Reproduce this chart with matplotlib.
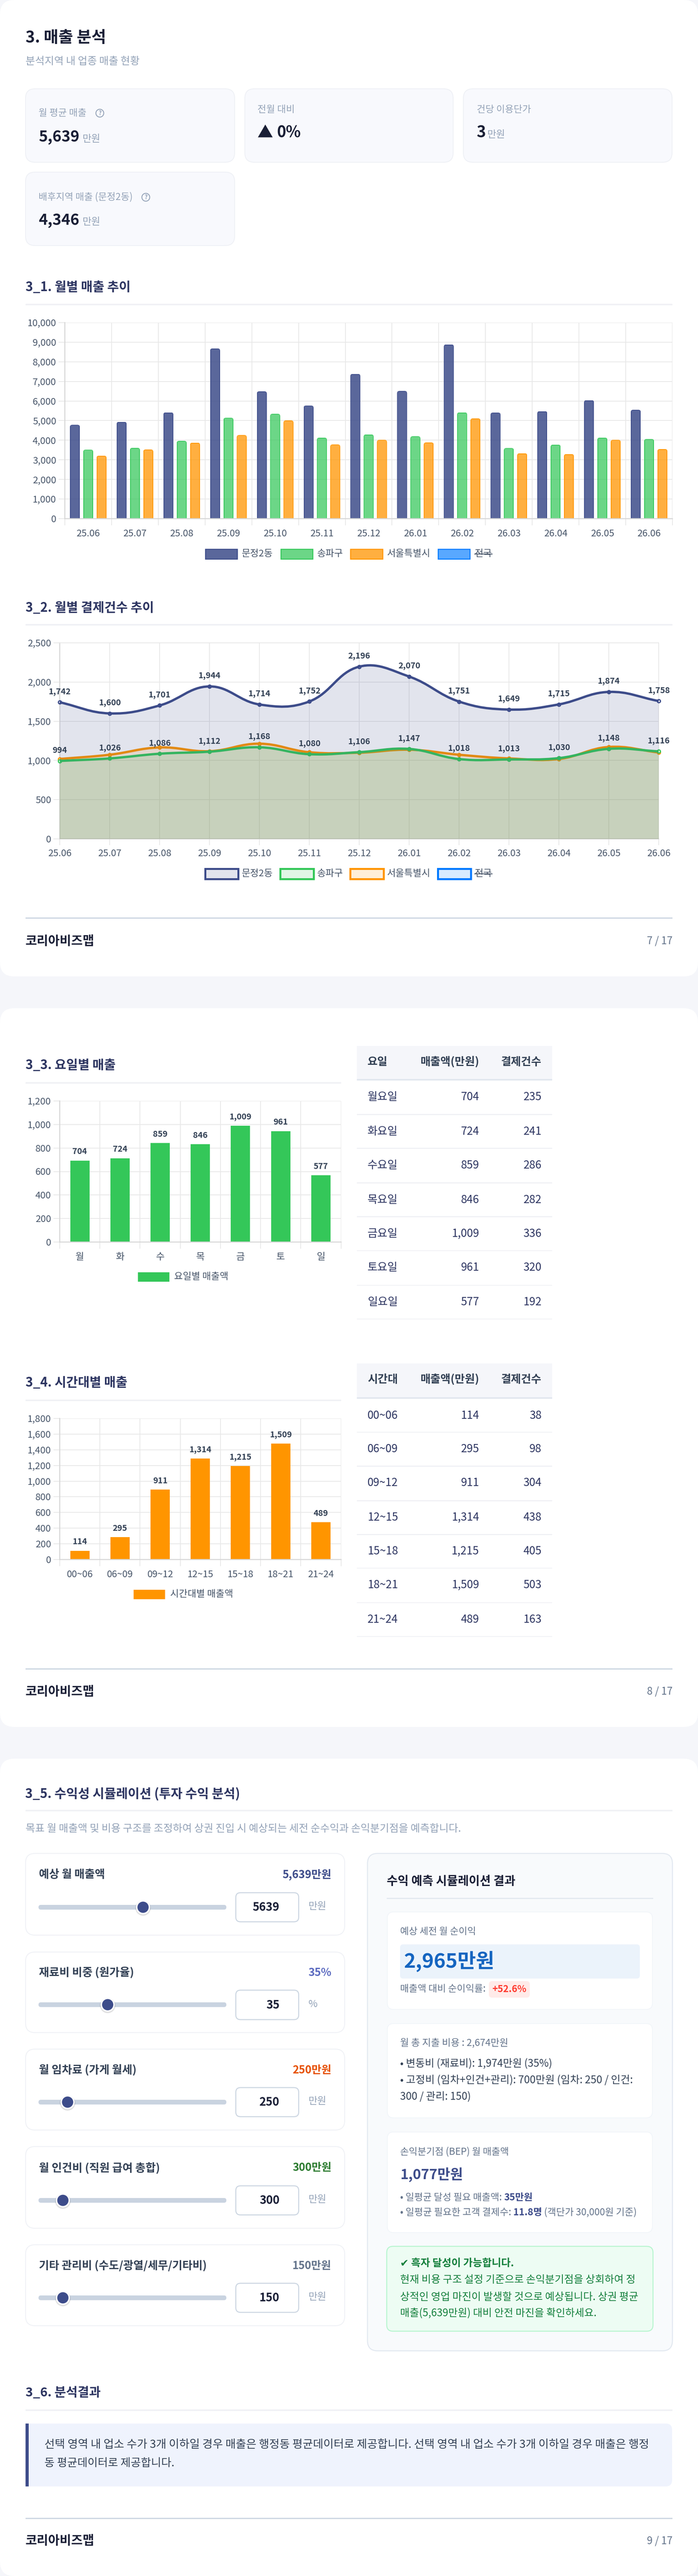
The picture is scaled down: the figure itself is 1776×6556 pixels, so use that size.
import matplotlib
matplotlib.use("Agg")
import matplotlib.pyplot as plt
from matplotlib.patches import FancyBboxPatch, Rectangle, Circle, PathPatch
from matplotlib.path import Path

plt.rcParams['font.family'] = ['Noto Sans CJK KR', 'DejaVu Sans']

W, H = 1776, 6556

# ---------- data ----------
months = ['25.06','25.07','25.08','25.09','25.10','25.11','25.12','26.01','26.02','26.03','26.04','26.05','26.06']
series_names = ['문정2동','송파구','서울특별시','전국']
sales_dong = [4765,4918,5399,8660,6472,5746,7362,6493,8865,5389,5460,6022,5532]
sales_gu   = [3497,3589,3947,5123,5327,4110,4274,4182,5399,3579,3753,4110,4039]
sales_city = [3190,3507,3855,4243,4990,3763,3998,3865,5092,3313,3272,3998,3528]
sales_ticks = [0,1000,2000,3000,4000,5000,6000,7000,8000,9000,10000]

count_dong = [1742,1600,1701,1944,1714,1752,2196,2070,1751,1649,1715,1874,1758]
count_gu   = [994,1026,1086,1112,1168,1080,1106,1147,1018,1013,1030,1148,1116]
count_city = [1019,1073,1166,1118,1214,1105,1099,1137,1073,1026,1019,1172,1102]
count_ticks = [0,500,1000,1500,2000,2500]

days = ['월','화','수','목','금','토','일']
day_names = ['월요일','화요일','수요일','목요일','금요일','토요일','일요일']
day_bar_heights = [693,712,842,831,989,944,567]
day_sales = [704,724,859,846,1009,961,577]
day_counts = [235,241,286,282,336,320,192]
day_ticks = [0,200,400,600,800,1000,1200]

hours = ['00~06','06~09','09~12','12~15','15~18','18~21','21~24']
hour_bar_heights = [112,285,892,1288,1192,1477,476]
hour_sales = [114,295,911,1314,1215,1509,489]
hour_counts = [38,98,304,438,405,503,163]
hour_ticks = [0,200,400,600,800,1000,1200,1400,1600,1800]

slider_labels = ['예상 월 매출액','재료비 비중 (원가율)','월 임차료 (가게 월세)','월 인건비 (직원 급여 총합)','기타 관리비 (수도/광열/세무/기타비)']
slider_values = ['5,639만원','35%','250만원','300만원','150만원']
slider_inputs = ['5639','35','250','300','150']
slider_units = ['만원','%','만원','만원','만원']

# ---------- colours ----------
NAVY, GREEN, ORANGE, BLUE = '#3d4c8a', '#34c759', '#ff9500', '#007aff'
PAGE = '#f5f6fa'; RULE = '#f0f1f5'; TICK = '#475569'; LABEL = '#334155'; INK = '#1a1f36'
HEAD = '#2d3561'; MUTED = '#94a3b8'; SLATE = '#64748b'; GRID = '#e8e8e8'; AXIS = '#d6d6d6'

fig = plt.figure(figsize=(W/100, H/100), dpi=100, facecolor=PAGE)
bg = fig.add_axes([0,0,1,1], zorder=0)
bg.set_xlim(0, W); bg.set_ylim(H, 0); bg.axis('off')
top = fig.add_axes([0,0,1,1], zorder=20)
top.set_xlim(0, W); top.set_ylim(H, 0); top.axis('off'); top.patch.set_alpha(0)
renderer = fig.canvas.get_renderer()
pt = lambda px: px*0.72


def box(x0, y0, x1, y1, r=0, fc='white', ec='none', lw=0, z=1):
    st = f"round,pad=0,rounding_size={r}" if r else "square,pad=0"
    p = FancyBboxPatch((x0, y0), x1-x0, y1-y0, boxstyle=st, fc=fc, ec=ec, lw=pt(lw), zorder=z, mutation_aspect=1)
    bg.add_patch(p)
    return p


def width(s, px, weight='normal'):
    a = top.text(0, 0, s+'|', fontsize=pt(px), fontweight=weight)
    b = top.text(0, 0, '|', fontsize=pt(px), fontweight=weight)
    w = a.get_window_extent(renderer).width - b.get_window_extent(renderer).width
    a.remove(); b.remove()
    return w


def T(x, y, s, px, color=INK, weight='normal', ha='left', fit=None):
    if fit:
        px = px*fit/width(s, px, weight)
    return top.text(x, y, s, fontsize=pt(px), color=color, fontweight=weight, ha=ha, va='center', zorder=30)


def runs(x, y, parts, px, fit=None):
    if fit:
        px = px*fit/sum(width(s, px, wt) for s, _, wt in parts)
    for s, col, wt in parts:
        T(x, y, s, px, col, wt)
        x += width(s, px, wt)


def rule(x0, x1, y, h=4, c=RULE):
    bg.add_patch(Rectangle((x0, y-h/2), x1-x0, h, fc=c, ec='none', zorder=2))


def axes_px(l, t, r, b):
    a = fig.add_axes([l/W, 1-b/H, (r-l)/W, (b-t)/H], zorder=10)
    a.patch.set_alpha(0)
    return a


def style_axes(a, ticks, tick_len=16):
    for s in ['top','right']:
        a.spines[s].set_visible(False)
    for s in ['left','bottom']:
        a.spines[s].set_color(AXIS); a.spines[s].set_linewidth(pt(2.5))
    a.set_axisbelow(True)
    a.set_yticks(ticks)
    a.set_yticklabels([f"{v:,}" for v in ticks])
    a.set_ylim(ticks[0], ticks[-1])
    a.grid(True, which='major', color=GRID, lw=pt(2))
    a.tick_params(axis='y', which='major', length=pt(tick_len), width=pt(2), color=GRID, pad=pt(6), labelsize=pt(24), labelcolor=TICK)


def band_axes(a, labels):
    n = len(labels)
    a.set_xlim(-0.5, n-0.5)
    a.set_xticks([i-0.5 for i in range(n+1)])
    a.set_xticklabels([])
    a.set_xticks(list(range(n)), minor=True)
    a.set_xticklabels(labels, minor=True)
    a.tick_params(axis='x', which='major', length=pt(17), width=pt(2), color=GRID)
    a.tick_params(axis='x', which='minor', length=0, pad=pt(27), labelsize=pt(24), labelcolor=TICK)


def footer(y_rule, y_text, page):
    rule(65, 1711, y_rule, 3, '#cbd5e1')
    T(65, y_text, '코리아비즈맵', 32, INK, 'bold', fit=175)
    T(1711, y_text, page, 26, SLATE, ha='right')


# ---------- page cards ----------
box(0, 0, W, 2485, 36, z=0.5)
box(0, 2566, W, 4395, 36, z=0.5)
box(0, 4476, W, 6556, 36, z=0.5)

# ---------- KPI header ----------
T(65, 97, '3. 매출 분석', 40, INK, 'bold', fit=205)
T(65, 156, '분석지역 내 업종 매출 현황', 24, MUTED, fit=291)
for x0, x1, y0, y1 in [(65,597,226,413),(623,1153,226,413),(1179,1710,226,413),(65,597,438,625)]:
    box(x0, y0, x1, y1, 24, '#f8f9fd', '#eef0f5', 2, z=1)


def help_icon(x, y):
    top.add_patch(Circle((x, y), 10, fc='none', ec=MUTED, lw=pt(2.2)))
    T(x, y, '?', 15, MUTED, 'bold', ha='center')


T(98, 288, '월 평균 매출', 22, MUTED, fit=122); help_icon(254, 288)
T(98, 349, '5,639', 40, INK, 'bold', fit=104); T(210, 354, '만원', 24, MUTED, fit=46)
T(655, 279, '전월 대비', 22, MUTED, fit=95)
T(655, 338, '▲', 40, INK, 'bold'); T(704, 338, '0%', 40, INK, 'bold', fit=61)
T(1213, 279, '건당 이용단가', 22, MUTED, fit=138)
T(1213, 338, '3', 40, INK, 'bold'); T(1240, 343, '만원', 24, MUTED, fit=46)
T(98, 502, '배후지역 매출 (문정2동)', 22, MUTED, fit=240); help_icon(371, 502)
T(98, 561, '4,346', 40, INK, 'bold', fit=104); T(210, 565, '만원', 24, MUTED, fit=46)

# ---------- 3_1 grouped bars ----------
T(65, 732, '3_1. 월별 매출 추이', 32, HEAD, 'bold', fit=267)
rule(65, 1711, 775)
ax1 = axes_px(165, 821, 1711, 1320)
style_axes(ax1, sales_ticks)
band_axes(ax1, months)
x_idx = list(range(len(months)))
unit_x = 118.92
unit_y = 10000/499
for vals, off, col, alpha in [(sales_dong,-0.285,NAVY,.85),(sales_gu,0,GREEN,.72),(sales_city,0.285,ORANGE,.75)]:
    face = matplotlib.colors.to_rgba(col, alpha)
    bars = ax1.bar([i+off for i in x_idx], vals, width=0.196, color=face, edgecolor=col, linewidth=pt(2))
    for b in bars:
        rx = 6/unit_x
        clip = FancyBboxPatch((b.get_x()-1/unit_x, -400), b.get_width()+2/unit_x, b.get_height()+400+1*unit_y,
                              boxstyle=f"round,pad=0,rounding_size={rx}", mutation_aspect=6*unit_y/rx,
                              transform=ax1.transData)
        b.set_clip_path(clip)


def legend_row(yc, yh, swatches, line=False):
    names = series_names
    for (x0, x1, tx), name, col, a in zip(swatches, names, [NAVY,GREEN,ORANGE,BLUE], [.85,.72,.75,.65] if not line else [.15,.15,.15,.15]):
        bw = 5 if line else 2.5
        top.add_patch(Rectangle((x0, yc-yh), x1-x0, 2*yh, fc=matplotlib.colors.to_rgba(col, a), ec=col, lw=pt(bw)))
        T(tx, yc, name, 24, TICK)
        if name == '전국':
            w = width(name, 24)
            top.plot([tx, tx+w], [yc, yc], color=TICK, lw=pt(2.2))


legend_row(1410, 12.5, [(523,604,615),(715,796,807),(892,974,985),(1115,1196,1208)])

# ---------- 3_2 smooth lines ----------
T(65, 1548, '3_2. 월별 결제건수 추이', 32, HEAD, 'bold', fit=326)
rule(65, 1711, 1590)
ax2 = axes_px(152, 1636, 1676, 2135)
style_axes(ax2, count_ticks)
ax2.set_xlim(0, 12)
ax2.set_xticks(x_idx)
ax2.set_xticklabels(months)
ax2.tick_params(axis='x', length=pt(16), width=pt(2), color=GRID, pad=pt(10), labelsize=pt(24), labelcolor=TICK)
ax2.spines['right'].set_visible(True); ax2.spines['right'].set_color(GRID); ax2.spines['right'].set_linewidth(pt(2))
ax2.spines['top'].set_visible(True); ax2.spines['top'].set_color(GRID); ax2.spines['top'].set_linewidth(pt(2))


def spline_vertices(a, xs, ys, t=0.4):
    """Bezier segments through the data points only, using chart tension."""
    pts = a.transData.transform(list(zip(xs, ys)))
    n = len(pts)
    inv = a.transData.inverted()
    verts, codes = [tuple(inv.transform(pts[0]))], [Path.MOVETO]
    ctrl = []
    for i in range(n):
        p0 = pts[max(i-1, 0)]; p1 = pts[i]; p2 = pts[min(i+1, n-1)]
        d01 = ((p1-p0)**2).sum()**.5; d12 = ((p2-p1)**2).sum()**.5
        s = d01+d12
        fa = t*d01/s; fb = t*d12/s
        ctrl.append((p1-fa*(p2-p0), p1+fb*(p2-p0)))
    for i in range(n-1):
        verts += [tuple(inv.transform(ctrl[i][1])), tuple(inv.transform(ctrl[i+1][0])), tuple(inv.transform(pts[i+1]))]
        codes += [Path.CURVE4]*3
    return verts, codes


for vals, col, z in [(count_city,ORANGE,3),(count_gu,GREEN,4),(count_dong,NAVY,5)]:
    v, c = spline_vertices(ax2, x_idx, vals)
    fill_v = v + [(12, 0), (0, 0), v[0]]
    fill_c = c + [Path.LINETO, Path.LINETO, Path.CLOSEPOLY]
    ax2.add_patch(PathPatch(Path(fill_v, fill_c), fc=matplotlib.colors.to_rgba(col, .15), ec='none', zorder=z))
    ax2.plot(x_idx, vals, ls='none', marker='o', ms=pt(8), mfc='white', mec=col, mew=pt(3), zorder=z, clip_on=False)
    ax2.add_patch(PathPatch(Path(v, c), fc='none', ec=col, lw=pt(6), capstyle='butt', joinstyle='round', zorder=z+0.1, clip_on=False))
for vals in (count_dong, count_gu):
    for i, val in enumerate(vals):
        ax2.annotate(f"{val:,}", (i, val), xytext=(0, pt(27)), textcoords='offset points', ha='center', va='center',
                     fontsize=pt(21), fontweight='bold', color=LABEL, zorder=30, annotation_clip=False)
legend_row(2224, 13, [(522,606,615),(713,798,807),(891,976,985),(1114,1198,1208)], line=True)
footer(2336, 2396, '7 / 17')


# ---------- 3_3, 3_4 ----------
def simple_bars(a, labels, heights, texts, ticks, col):
    style_axes(a, ticks)
    band_axes(a, labels)
    a.bar(range(len(labels)), heights, width=0.48, color=col, edgecolor='none')
    for i, (h, s) in enumerate(zip(heights, texts)):
        a.annotate(f"{s:,}", (i, h), xytext=(0, pt(23)), textcoords='offset points', ha='center', va='center',
                   fontsize=pt(21), fontweight='bold', color=LABEL, zorder=30)


def table(y_head0, y_head1, y_head_text, ys_text, ys_line, head, names, a_vals, b_vals):
    box(908, y_head0, 1405, y_head1, fc=PAGE, z=1)
    bg.add_patch(Rectangle((908, y_head1-1), 497, 4, fc='#e2e7ef', ec='none', zorder=2))
    T(935, y_head_text, head[0], 28, LABEL, 'bold')
    T(1219, y_head_text, head[1], 28, LABEL, 'bold', ha='right')
    T(1378, y_head_text, head[2], 28, LABEL, 'bold', ha='right')
    for yt, yl, n, a_, b_ in zip(ys_text, ys_line, names, a_vals, b_vals):
        T(935, yt, n, 28, HEAD)
        T(1219, yt, f"{a_:,}", 28, HEAD, ha='right')
        T(1378, yt, f"{b_:,}", 28, HEAD, ha='right')
        rule(908, 1405, yl, 2.5, RULE)


T(65, 2711, '3_3. 요일별 매출', 32, HEAD, 'bold', fit=229)
rule(65, 867.5, 2755.5)
ax3 = axes_px(152, 2802, 867.5, 3161)
simple_bars(ax3, days, day_bar_heights, day_sales, day_ticks, GREEN)
top.add_patch(Rectangle((351, 3238), 80, 24, fc=GREEN, ec='none'))
T(443, 3250, '요일별 매출액', 24, TICK)
table(2662, 2747, 2703, [2792,2880,2966,3054,3140,3226,3313.5], [2836.5,2922.6,3010.6,3096.7,3182.8,3270.8,3356.9],
      ['요일','매출액(만원)','결제건수'], day_names, day_sales, day_counts)

T(65, 3520, '3_4. 시간대별 매출', 32, HEAD, 'bold', fit=259)
rule(65, 867.5, 3564)
ax4 = axes_px(152, 3610, 867.5, 3969)
simple_bars(ax4, hours, hour_bar_heights, hour_sales, hour_ticks, ORANGE)
top.add_patch(Rectangle((340, 4046), 80, 24, fc=ORANGE, ec='none'))
T(433, 4057, '시간대별 매출액', 24, TICK)
table(3470, 3557, 3511, [3602.6,3688,3773.5,3861.6,3948,4034,4122], [3645,3731.5,3819.5,3905.6,3991,4079,4165],
      ['시간대','매출액(만원)','결제건수'], hours, hour_sales, hour_counts)
footer(4247, 4306, '8 / 17')

# ---------- 3_5 simulator ----------
T(64, 4566, '3_5. 수익성 시뮬레이션 (투자 수익 분석)', 32, HEAD, 'bold', fit=546)
rule(65, 1711, 4608)
T(65, 4654, '목표 월 매출액 및 비용 구조를 조정하여 상권 진입 시 예상되는 세전 순수익과 손익분기점을 예측합니다.', 24, MUTED, fit=1111)

card_tops = [(4717,4925,4771,4854,4817,4891,364), (4968,5173,5021,5102,5065,5140,274), (5215,5421,5269,5350,5313,5387,172),
             (5463,5671,5517,5600,5563,5637,160), (5713,5919,5767,5848,5811,5885,160)]
value_colors = [NAVY,'#5c6bc0','#e65100','#2e7d32',SLATE]
label_widths = [168,242,249,308,428]
value_widths = [125,59,99,99,99]
for (y0,y1,yl,ys,yb0,yb1,tx), lab, val, inp, unit, vc, lw_, vw_ in zip(card_tops, slider_labels, slider_values, slider_inputs, slider_units, value_colors, label_widths, value_widths):
    box(65, y0, 877, y1, 24, 'white', '#eef0f5', 2)
    T(99, yl, lab, 28, LABEL, 'bold', fit=lw_)
    T(843, yl, val, 28, vc, 'bold', ha='right', fit=vw_)
    box(98, ys-6, 576, ys+6, 6, '#c9d3e0', z=2)
    bg.add_patch(Circle((tx, ys+2), 19.5, fc=(0,0,0,.12), ec='none', zorder=3))
    bg.add_patch(Circle((tx, ys), 18, fc='white', ec='none', zorder=4))
    bg.add_patch(Circle((tx, ys), 14.3, fc=NAVY, ec='none', zorder=5))
    box(600, yb0, 760, yb1, 12, 'white', '#cbd5e1', 2.5, z=2)
    T(711, (yb0+yb1)/2, inp, 29, INK, 'bold', ha='right')
    T(785, (yb0+yb1)/2-2, unit, 25, MUTED)

box(935, 4717, 1711, 5983, 26, '#f8fafc', '#e2e8f0', 2.5)
T(984, 4788, '수익 예측 시뮬레이션 결과', 30, INK, 'bold', fit=328)
rule(984, 1662, 4831, 3, '#e2e8f0')

box(985.5, 4866, 1660, 5114, 16, 'white', '#f1f5f9', 2, z=2)
T(1018, 4916, '예상 세전 월 순이익', 24, SLATE, fit=194)
box(1018, 4948.5, 1628, 5035.5, 8, '#ebf3fb', z=3)
T(1027, 4992, '2,965만원', 52, '#1565c0', 'bold', fit=231)
T(1018, 5062, '매출액 대비 순이익률:', 24, SLATE, fit=218)
box(1244, 5042, 1348, 5084, 8, '#ffebe9', z=3)
T(1296, 5063, '+52.6%', 24, '#ff3b30', 'bold', ha='center', fit=87)

box(985.5, 5150, 1660, 5390, 16, 'white', '#f1f5f9', 2, z=2)
T(1018, 5200.6, '월 총 지출 비용 : 2,674만원', 24, SLATE, fit=275)
T(1018, 5252, '• 변동비 (재료비): 1,974만원 (35%)', 26, LABEL, fit=387)
T(1018, 5294, '• 고정비 (임차+인건+관리): 700만원 (임차: 250 / 인건:', 26, LABEL, fit=591)
T(1018, 5336, '300 / 관리: 150)', 26, LABEL, fit=180)

box(985.5, 5426, 1660, 5682, 16, 'white', '#f1f5f9', 2, z=2)
T(1018, 5477, '손익분기점 (BEP) 월 매출액', 24, SLATE, fit=278)
T(1018, 5535.6, '1,077만원', 36, NAVY, 'bold', fit=160)
runs(1018, 5593, [('• 일평균 달성 필요 매출액: ', SLATE, 'normal'), ('35만원', NAVY, 'bold')], 24, fit=339)
runs(1018, 5631, [('• 일평균 필요한 고객 결제수: ', SLATE, 'normal'), ('11.8명', NAVY, 'bold'), (' (객단가 30,000원 기준)', SLATE, 'normal')], 24, fit=603)

box(984, 5717, 1661.5, 5933, 16, '#edfcf3', '#b7f5cf', 2.5, z=2)
runs(1018, 5761, [('✔', '#15803d', 'bold'), (' 흑자 달성이 가능합니다.', '#15803d', 'bold')], 26, fit=289)
for y, s, f in [(5803,'현재 비용 구조 설정 기준으로 손익분기점을 상회하여 정',599),
                (5846,'상적인 영업 마진이 발생할 것으로 예상됩니다. 상권 평균',606),
                (5887,'매출(5,639만원) 대비 안전 마진을 확인하세요.',499)]:
    T(1018, y, s, 26, '#15803d', fit=f)

# ---------- 3_6 ----------
T(65, 6090, '3_6. 분석결과', 32, HEAD, 'bold', fit=191)
rule(65, 1711, 6134)
box(65, 6168, 1710, 6328, 16, '#eff3fd', z=1)
bg.add_patch(Rectangle((65, 6168), 30, 160, fc='#eff3fd', ec='none', zorder=1.5))
bg.add_patch(Rectangle((65, 6168), 8, 160, fc=NAVY, ec='none', zorder=2))
T(113, 6222, '선택 영역 내 업소 수가 3개 이하일 경우 매출은 행정동 평균데이터로 제공합니다. 선택 영역 내 업소 수가 3개 이하일 경우 매출은 행정', 28, LABEL, fit=1540)
T(113, 6269, '동 평균데이터로 제공합니다.', 28, LABEL, fit=(392-100)/.883)
footer(6409, 6467, '9 / 17')

fig.savefig('out.png', dpi=100, facecolor=PAGE)
